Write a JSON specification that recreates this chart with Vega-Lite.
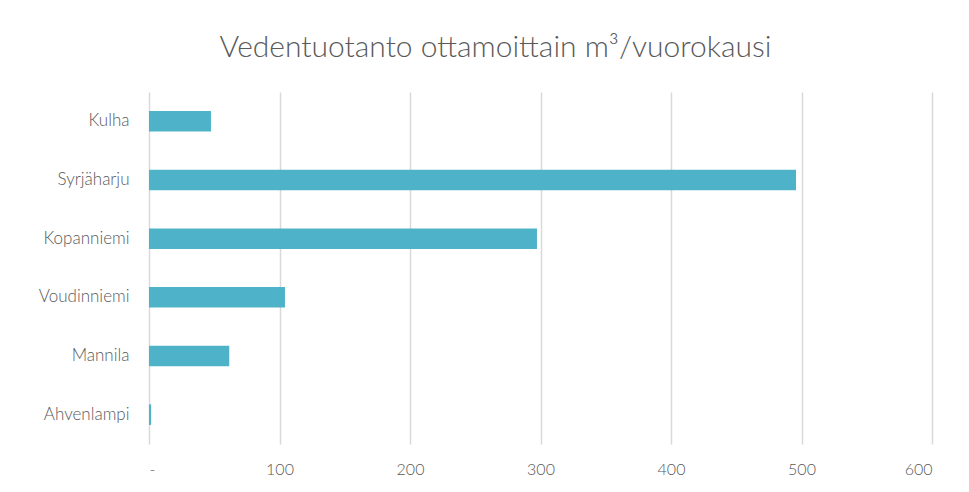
{
  "$schema": "https://vega.github.io/schema/vega-lite/v6.json",
  "autosize": {"type": "none"},
  "width": 783,
  "height": 352,
  "padding": {"left": 149, "top": 92, "right": 37, "bottom": 48},
  "background": "white",
  "title": {
    "text": "Vedentuotanto ottamoittain m³/vuorokausi",
    "font": "Lato",
    "fontSize": 30,
    "fontWeight": 300,
    "color": "#595959",
    "anchor": "middle",
    "dx": -45,
    "offset": 29
  },
  "data": {
    "values": [
      {"ottamo": "Kulha", "m3": 47.5},
      {"ottamo": "Syrjäharju", "m3": 495.8},
      {"ottamo": "Kopanniemi", "m3": 297.3},
      {"ottamo": "Voudinniemi", "m3": 104.2},
      {"ottamo": "Mannila", "m3": 61.5},
      {"ottamo": "Ahvenlampi", "m3": 1.6}
    ]
  },
  "mark": {"type": "bar", "color": "#4EB3C8"},
  "encoding": {
    "y": {
      "field": "ottamo",
      "type": "nominal",
      "sort": null,
      "scale": {"paddingInner": 0.65, "paddingOuter": 0.325},
      "axis": {
        "title": null,
        "domain": false,
        "ticks": false,
        "grid": false,
        "labelFont": "Lato",
        "labelFontSize": 17,
        "labelFontWeight": 300,
        "labelColor": "#595959",
        "labelPadding": 20
      }
    },
    "x": {
      "field": "m3",
      "type": "quantitative",
      "scale": {"domain": [0, 600], "nice": false},
      "axis": {
        "title": null,
        "values": [0, 100, 200, 300, 400, 500, 600],
        "labelExpr": "datum.value == 0 ? '-' : datum.label",
        "domain": false,
        "ticks": false,
        "grid": true,
        "gridColor": "#D9D9D9",
        "gridWidth": 1.5,
        "labelFont": "Lato",
        "labelFontSize": 16,
        "labelFontWeight": 300,
        "labelColor": "#595959",
        "labelPadding": 17
      }
    }
  },
  "config": {"view": {"stroke": null}}
}
